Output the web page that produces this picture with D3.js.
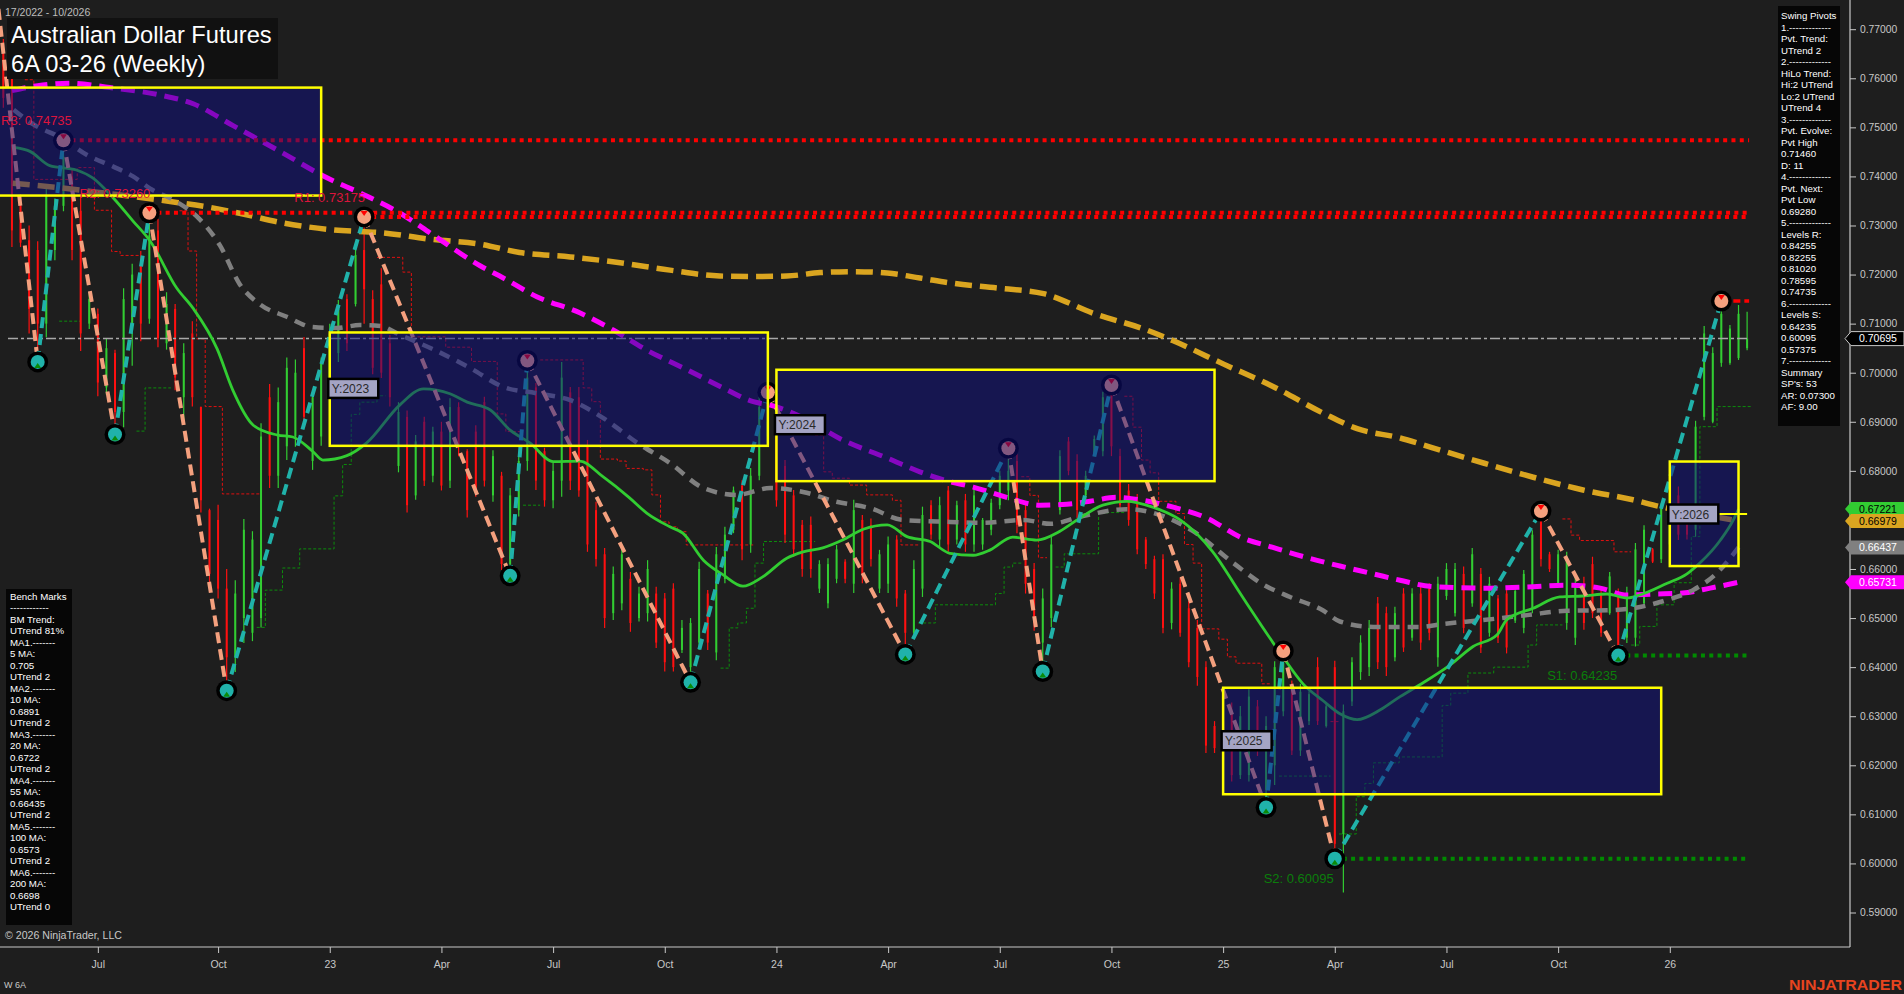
<!DOCTYPE html>
<html><head><meta charset="utf-8">
<script src="https://cdnjs.cloudflare.com/ajax/libs/d3/7.8.5/d3.min.js"></script>
<style>
html,body{margin:0;padding:0;background:#1e1e1e;overflow:hidden}
svg{display:block}
text{font-family:"Liberation Sans",Arial,sans-serif}
</style></head><body>
<svg id="c" width="1904" height="994"></svg>
<script>
// ---------- DATA ----------
const firstBarDate = new Date(2022, 3, 15); // weekly bars (Fridays)
const opens=[.7650,.7640,.7340,.7270,.7250,.7100,.7250,.7340,.7400,.7330,
.7100,.7120,.6970,.7040,.6920,.7100,.7220,.7110,.7290,.7060,
.7130,.6950,.7080,.6930,.6720,.6700,.6560,.6420,.6500,.6470,
.6500,.6950,.6790,.6850,.6870,.7050,.6820,.6870,.6980,.7040,
.7150,.7140,.7250,.7150,.7180,.7060,.6810,.6910,.6750,.6900,
.6790,.6880,.6780,.6930,.6840,.6880,.6940,.6750,.6790,.6610,
.6720,.6820,.6970,.6840,.6740,.6780,.6960,.6950,.6850,.6720,
.6630,.6510,.6530,.6580,.6500,.6510,.6550,.6540,.6560,.6435,
.6400,.6450,.6550,.6430,.6580,.6680,.6770,.6650,.6790,.6870,
.6870,.6810,.6750,.6690,.6690,.6560,.6530,.6580,.6615,.6570,
.6700,.6690,.6560,.6570,.6660,.6550,.6470,.6560,.6730,.6660,
.6760,.6660,.6740,.6650,.6650,.6680,.6730,.6760,.6820,.6720,
.6600,.6450,.6500,.6720,.6860,.6820,.6750,.6835,.6840,.6960,
.6830,.6760,.6740,.6660,.6620,.6620,.6490,.6570,.6520,.6480,
.6400,.6280,.6290,.6310,.6180,.6180,.6320,.6150,.6200,.6310,
.6360,.6230,.6290,.6400,.6280,.6400,.6060,.6330,.6390,.6400,
.6530,.6510,.6420,.6550,.6460,.6550,.6560,.6420,.6545,.6510,
.6590,.6530,.6590,.6470,.6540,.6550,.6495,.6480,.6520,.6700,
.6630,.6570,.6490,.6460,.6570,.6610,.6550,.6510,.6550,.6460,
.6460,.6530,.6640,.6620,.6650,.6750,.6720,.6680,.6910,.6900,
.7020,.7020,.7030,.7050];
const highs=[.7680,.7658,.7364,.7300,.7268,.7384,.7355,.7475,.7413,.7364,
.7164,.7131,.7070,.7047,.7172,.7222,.7248,.7326,.7313,.7164,
.7140,.7060,.7105,.6931,.6723,.6731,.6600,.6577,.6702,.6677,
.6897,.6977,.6970,.7031,.7027,.7073,.6965,.7031,.7100,.7148,
.7160,.7256,.7319,.7168,.7213,.7077,.6940,.6923,.6873,.6910,
.6890,.6900,.6948,.6940,.6844,.6893,.6951,.6842,.6798,.6765,
.6829,.7025,.6979,.6847,.6816,.7022,.6971,.6971,.6863,.6737,
.6643,.6605,.6643,.6594,.6564,.6618,.6564,.6551,.6571,.6496,
.6500,.6615,.6557,.6645,.6686,.6768,.6781,.6806,.6951,.6960,
.6880,.6822,.6761,.6700,.6707,.6618,.6622,.6649,.6620,.6741,
.6710,.6703,.6639,.6666,.6669,.6557,.6618,.6727,.6740,.6747,
.6769,.6739,.6753,.6765,.6704,.6743,.6800,.6846,.6834,.6734,
.6612,.6560,.6669,.6842,.6869,.6834,.6800,.6872,.6961,.6975,
.6845,.6773,.6753,.6665,.6627,.6630,.6573,.6582,.6535,.6496,
.6412,.6290,.6300,.6328,.6321,.6355,.6333,.6300,.6412,.6433,
.6373,.6366,.6351,.6420,.6326,.6413,.6324,.6420,.6465,.6496,
.6543,.6523,.6523,.6561,.6561,.6564,.6571,.6584,.6612,.6612,
.6605,.6643,.6602,.6584,.6547,.6557,.6561,.6598,.6679,.6718,
.6635,.6639,.6635,.6584,.6584,.6625,.6564,.6594,.6560,.6564,
.6653,.6689,.6643,.6734,.6740,.6768,.6727,.6902,.7095,.7052,
.7148,.7097,.7138,.7124];
const lows=[.7540,.7256,.7256,.7080,.7022,.7072,.7229,.7329,.7229,.7044,
.7089,.6952,.6955,.6874,.6889,.7014,.7064,.7100,.7052,.7047,
.6964,.6900,.6931,.6715,.6573,.6540,.6352,.6390,.6449,.6453,
.6481,.6765,.6765,.6822,.6849,.6897,.6802,.6851,.6960,.7022,
.7044,.7135,.7100,.6997,.6989,.6931,.6797,.6715,.6741,.6769,
.6777,.6760,.6765,.6830,.6705,.6747,.6768,.6737,.6598,.6586,
.6707,.6800,.6761,.6727,.6724,.6747,.6761,.6747,.6635,.6605,
.6480,.6496,.6516,.6472,.6493,.6493,.6439,.6391,.6391,.6429,
.6369,.6435,.6435,.6414,.6571,.6673,.6618,.6633,.6781,.6850,
.6727,.6653,.6625,.6584,.6582,.6551,.6520,.6571,.6571,.6551,
.6571,.6605,.6551,.6551,.6523,.6426,.6459,.6543,.6660,.6643,
.6635,.6650,.6635,.6635,.6639,.6669,.6722,.6740,.6673,.6550,
.6474,.6391,.6482,.6711,.6791,.6704,.6740,.6830,.6830,.6830,
.6719,.6688,.6630,.6600,.6539,.6469,.6477,.6462,.6400,.6362,
.6225,.6225,.6190,.6167,.6172,.6167,.6219,.6114,.6160,.6300,
.6221,.6219,.6282,.6282,.6277,.6010,.5941,.6321,.6374,.6382,
.6396,.6382,.6412,.6431,.6454,.6435,.6455,.6401,.6537,.6503,
.6469,.6523,.6429,.6462,.6449,.6428,.6490,.6469,.6510,.6605,
.6594,.6564,.6476,.6445,.6476,.6500,.6462,.6507,.6423,.6449,
.6442,.6523,.6612,.6612,.6640,.6659,.6660,.6666,.6903,.6897,
.7012,.7016,.7026,.7046];
const closes=[.7560,.7290,.7265,.7130,.7100,.7360,.7340,.7440,.7250,.7080,
.7150,.6980,.7050,.6920,.7150,.7200,.7100,.7280,.7070,.7140,
.6990,.7040,.6950,.6740,.6590,.6560,.6420,.6550,.6680,.6660,
.6870,.6790,.6940,.7010,.7000,.6910,.6950,.7020,.7080,.7130,
.7060,.7240,.7170,.7010,.7000,.6950,.6920,.6730,.6860,.6780,
.6880,.6770,.6930,.6850,.6720,.6760,.6780,.6830,.6610,.6750,
.6820,.6990,.6780,.6740,.6800,.6990,.6780,.6760,.6650,.6620,
.6500,.6590,.6630,.6490,.6550,.6600,.6450,.6410,.6400,.6480,
.6490,.6600,.6450,.6630,.6670,.6760,.6640,.6790,.6930,.6900,
.6740,.6670,.6640,.6600,.6600,.6610,.6610,.6640,.6580,.6720,
.6590,.6620,.6630,.6650,.6540,.6470,.6600,.6710,.6670,.6730,
.6650,.6730,.6650,.6750,.6700,.6735,.6790,.6800,.6690,.6570,
.6490,.6540,.6650,.6830,.6800,.6720,.6790,.6865,.6950,.6850,
.6730,.6700,.6640,.6610,.6550,.6480,.6560,.6470,.6410,.6380,
.6240,.6235,.6210,.6180,.6300,.6340,.6230,.6280,.6400,.6410,
.6230,.6350,.6345,.6290,.6320,.6040,.6310,.6410,.6450,.6480,
.6410,.6400,.6510,.6440,.6550,.6450,.6470,.6570,.6600,.6600,
.6480,.6630,.6440,.6570,.6460,.6440,.6555,.6590,.6670,.6620,
.6600,.6630,.6620,.6570,.6490,.6510,.6470,.6585,.6440,.6550,
.6640,.6680,.6615,.6725,.6730,.6670,.6670,.6890,.7080,.7040,
.7120,.7090,.7120,.70695];

// swing pivots (bar index, price, kind)
const pivotIdx=[-1,4,7,13,17,26,42,59,61,80,89,105,117,121,129,147,149,155,179,188,200];
const pivotVal=[.7810,.7022,.74735,.6874,.73260,.6352,.73175,.6586,.7025,.6369,.6960,.6426,.6846,.6391,.6975,.6114,.6433,.60095,.6718,.64235,.71460];
const pivotKind=['H','L','H','L','H','L','H','L','H','L','H','L','H','L','H','L','H','L','H','L','H'];

// moving averages sampled [bar index, value]
const ma20=[[1.2,.7459],[3.1,.7451],[5.4,.7422],[8.5,.7413],[10.4,.7397],[12.8,.7356],[15.1,.7309],[17.1,.7268],[20.2,.7172],[22.1,.7131],[24.9,.7048],[26.7,.6965],[29.1,.6893],[31.9,.6873],[33.7,.6869],[36.0,.6840],[37.2,.6822],[40.0,.6831],[42.3,.6857],[46.2,.6935],[48.9,.6967],[52.0,.6957],[54.0,.6940],[56.7,.6924],[59.0,.6883],[61.3,.6857],[64.0,.6819],[67.1,.6820],[69.8,.6788],[72.9,.6745],[74.9,.6714],[77.6,.6686],[79.1,.6673],[81.5,.6618],[83.8,.6588],[86.1,.6565],[88.4,.6584],[91.2,.6622],[93.1,.6635],[95.4,.6643],[97.7,.6659],[100.1,.6681],[102.9,.6690],[105.2,.6666],[107.9,.6656],[110.2,.6632],[112.9,.6628],[114.9,.6639],[117.5,.6665],[120.3,.6659],[123.0,.6677],[125.0,.6700],[128.0,.6730],[130.8,.6738],[133.8,.6726],[137.0,.6700],[140.8,.6635],[144.0,.6550],[146.3,.6489],[149.0,.6420],[151.3,.6366],[153.6,.6332],[155.6,.6305],[157.6,.6293],[160.3,.6313],[162.6,.6340],[164.9,.6364],[168.4,.6404],[171.1,.6442],[173.9,.6466],[175.0,.6496],[178.1,.6520],[181.2,.6543],[183.9,.6545],[186.7,.6549],[189.0,.6541],[190.5,.6547],[193.7,.6571],[196.0,.6590],[197.5,.6612],[199.9,.6659],[201.4,.6700],[202,.6722]];
const ma55=[[1.2,.7536],[3.5,.7506],[6.9,.7477],[9.7,.7444],[12.8,.7420],[15.1,.7400],[17.1,.7375],[19.8,.7352],[22.9,.7312],[25.2,.7260],[27.5,.7181],[29.9,.7139],[33.0,.7114],[36.0,.7093],[38.8,.7091],[41.5,.7097],[43.9,.7095],[46.2,.7077],[50.0,.7048],[54.3,.7010],[58.2,.6971],[62.1,.6958],[66.0,.6944],[69.8,.6908],[73.8,.6857],[77.6,.6816],[81.5,.6765],[85.4,.6751],[89.3,.6765],[93.1,.6757],[97.0,.6737],[100.9,.6724],[104.7,.6700],[110.2,.6696],[114.0,.6694],[118.7,.6700],[121.9,.6692],[125.7,.6708],[130.8,.6722],[134.3,.6712],[138.5,.6677],[143.2,.6612],[146.6,.6569],[149.8,.6543],[153.6,.6516],[155.6,.6493],[159.5,.6482],[164.9,.6482],[167.6,.6488],[172.3,.6496],[177.4,.6506],[182.0,.6515],[186.7,.6516],[189.7,.6520],[193.7,.6537],[196.7,.6557],[199.5,.6592],[202,.6644]];
const ma100=[[1.0,.7575],[4.0,.7585],[7.8,.7590],[12.4,.7581],[18.2,.7566],[22.1,.7548],[26.8,.7503],[32.6,.7447],[36.9,.7404],[42.3,.7360],[46.2,.7325],[50.0,.7281],[55.5,.7218],[58.2,.7193],[62.1,.7155],[67.1,.7122],[71.0,.7087],[74.9,.7046],[79.6,.7006],[83.8,.6969],[87.3,.6941],[89.3,.6934],[93.1,.6908],[97.7,.6863],[102.9,.6826],[106.7,.6798],[110.2,.6778],[112.9,.6767],[116.8,.6746],[120.7,.6730],[123.8,.6732],[126.5,.6738],[129.6,.6746],[132.3,.6741],[136.2,.6726],[140.1,.6704],[144.0,.6665],[147.8,.6644],[151.8,.6623],[155.6,.6606],[159.5,.6590],[162.6,.6577],[166.4,.6564],[172.3,.6561],[178.1,.6564],[182.0,.6567],[185.9,.6561],[189.0,.6547],[192.1,.6549],[195.5,.6551],[198.7,.6561],[202,.6573]];
const ma200=[[1.1,.7386],[5.4,.7379],[10.4,.7369],[15.1,.7359],[19.8,.7348],[23.7,.7338],[27.5,.7325],[32.6,.7305],[38.4,.7291],[44.2,.7285],[49.7,.7272],[55.5,.7262],[60.1,.7245],[66.0,.7236],[71.8,.7224],[77.6,.7209],[83.4,.7197],[87.3,.7196],[91.2,.7197],[95.1,.7204],[98.9,.7206],[102.9,.7203],[106.7,.7193],[110.2,.7183],[116.0,.7172],[121.1,.7161],[126.9,.7121],[133.1,.7087],[136.2,.7065],[142.0,.7018],[147.8,.6972],[153.6,.6918],[157.6,.6886],[162.6,.6867],[166.4,.6847],[172.3,.6816],[178.1,.6787],[183.9,.6761],[189.7,.6741],[192.9,.6727],[197.5,.6712],[202,.6698]];

// trailing step bands [bar index, value]
const redSteps=[
 [[2.5,.7597],[3.55,.7394],[8.6,.7418],[10.6,.7331],[12.6,.7247],[13.6,.7239],[15.9,.7239]],
 [[20.5,.7330],[21.5,.7248],[22.5,.7069],[23.5,.6931],[25.5,.6753],[29.9,.6753]],
 [[43.5,.7235],[46.5,.7205],[47.5,.7073],[51.5,.7052],[54.5,.7023],[57.5,.6916],[58.5,.6880],[60.5,.6880]],
 [[62.5,.7026],[67.5,.6969],[68.5,.6941],[69.5,.6824],[71.5,.6820],[72.5,.6805],[74.5,.6802],[75.5,.6751],[76.5,.6696],[77.5,.6686],[78.5,.6676],[79.5,.6649],[87.5,.6649]],
 [[94.5,.6873],[95.5,.6798],[96.5,.6785],[98.5,.6771],[100.5,.6751],[103.5,.6740],[104.5,.6649],[106.5,.6649]],
 [[118.5,.6788],[119.5,.6750],[120.5,.6623],[121.5,.6623]],
 [[130.5,.6952],[131.5,.6889],[132.5,.6822],[133.5,.6796],[134.5,.6738],[136.5,.6713],[137.5,.6650],[138.5,.6612],[139.5,.6478],[141.5,.6457],[142.5,.6421],[143.5,.6408],[146.5,.6366],[147.5,.6366]],
 [[154.5,.6289],[155.5,.6289]],
 [[181.5,.6702],[182.5,.6669],[183.5,.6658],[187.5,.6635],[189.5,.6635]]
];
const greenSteps=[
 [[6.5,.7105],[9,.7105]],
 [[15.5,.6881],[16.5,.6969],[19.5,.6969]],
 [[29.5,.6481],[30.5,.6557],[32.5,.6602],[34.5,.6641],[38.5,.6749],[39.5,.6813],[40.5,.6915],[41.5,.6940],[43.5,.6953],[44.5,.6953]],
 [[60.5,.6730],[62.5,.6730]],
 [[83.5,.6398],[84.5,.6480],[85.5,.6490],[86.5,.6520],[87.5,.6612],[88.5,.6656],[94.5,.6656]],
 [[106.5,.6490],[108.5,.6527],[115.5,.6550],[116.5,.6604],[117.5,.6612],[118.5,.6612]],
 [[122.5,.6604],[123.5,.6631],[127.5,.6713],[128.5,.6715],[130.5,.6715]],
 [[148.5,.6178],[154.5,.6178]],
 [[155.5,.6060],[157.5,.6136],[158.5,.6163],[159.5,.6205],[162.5,.6217],[167.5,.6322],[168.5,.6347],[170.5,.6388],[173.5,.6400],[177.5,.6445],[178.5,.6486],[181.5,.6486]],
 [[189.5,.6445],[190.5,.6483],[192.5,.6527],[194.5,.6572],[196.5,.6666],[197.5,.6890],[199.5,.6931],[203.5,.6931]]
];

// support / resistance levels
const rLevels=[0.74735,0.73260,0.73175], rFrom=[7,17,42], rNames=['R3','R2','R1'];
const sLevels=[0.64235,0.60095], sFrom=[188,155], sNames=['S1','S2'];

// yearly boxes
const boxYears=['2022','2023','2024','2025','2026'];
const boxStart=[-1,38,90,142,194], boxEnd=[37,89,141,193,202];
const boxTop=[.7581,.7082,.7006,.6358,.6819], boxBot=[.7361,.6851,.6779,.6141,.6606];
const yearOpen=[null,.6968,.6894,.6250,.6712];

const lastPrice=0.70695;
const tagValues=[0.70695,0.67221,0.66979,0.66437,0.65731];
const tagFills=['#000000','#32cd32','#daa520','#808080','#ff00ff'];
const tagTexts=['#ffffff','#000000','#000000','#ffffff','#ffffff'];

const swingText=['Swing Pivots','1.-------------','Pvt. Trend:','UTrend 2','2.-------------','HiLo Trend:','Hi:2 UTrend','Lo:2 UTrend','UTrend 4','3.-------------','Pvt. Evolve:','Pvt High','0.71460','D: 11','4.-------------','Pvt. Next:','Pvt Low','0.69280','5.-------------','Levels R:','0.84255','0.82255','0.81020','0.78595','0.74735','6.-------------','Levels S:','0.64235','0.60095','0.57375','7.-------------','Summary',"SP's: 53",'AR: 0.07300','AF: 9.00'];
const benchText=['Bench Marks','------------','BM Trend:','UTrend 81%','MA1.-------','5 MA:','0.705','UTrend 2','MA2.-------','10 MA:','0.6891','UTrend 2','MA3.-------','20 MA:','0.6722','UTrend 2','MA4.-------','55 MA:','0.66435','UTrend 2','MA5.-------','100 MA:','0.6573','UTrend 2','MA6.-------','200 MA:','0.6698','UTrend 0'];
const yTicks=d3.range(0,19).map(k=>+(0.59+k*0.01).toFixed(2));

// ---------- CHART ----------
const N=opens.length;
const W=1904,H=994, plotR=1850, plotB=947;
const svg=d3.select('#c');
const x=d3.scaleLinear().domain([0,203]).range([3.34,3.34+203*8.59]);
const y=d3.scaleLinear().domain([0.59,0.77]).range([912.5,29.2]);

svg.append('rect').attr('width',W).attr('height',H).attr('fill','#1e1e1e');
svg.append('defs').append('clipPath').attr('id','clip').append('rect').attr('x',0).attr('y',0).attr('width',plotR).attr('height',plotB);
const g=svg.append('g').attr('clip-path','url(#clip)');

// step bands
const stepLine=d3.line().x(d=>x(d[0])).y(d=>y(d[1])).curve(d3.curveStepAfter);
g.selectAll('path.rs').data(redSteps).join('path').attr('d',stepLine).attr('fill','none').attr('stroke','#e01010').attr('stroke-width',1).attr('stroke-dasharray','3,2');
g.selectAll('path.gs').data(greenSteps).join('path').attr('d',stepLine).attr('fill','none').attr('stroke','#0c8c0c').attr('stroke-width',1).attr('stroke-dasharray','3,2');

// bars
const idx=d3.range(N);
const col=i=>closes[i]>=opens[i]?'#32cd32':'#ff1010';
g.selectAll('line.bar').data(idx).join('line')
 .attr('x1',i=>x(i)).attr('x2',i=>x(i)).attr('y1',i=>y(highs[i])).attr('y2',i=>y(lows[i]))
 .attr('stroke',col).attr('stroke-width',1.2);
g.selectAll('rect.body').data(idx).join('rect')
 .attr('x',i=>x(i)-1).attr('width',2)
 .attr('y',i=>y(Math.max(opens[i],closes[i])))
 .attr('height',i=>Math.max(1,Math.abs(y(opens[i])-y(closes[i]))))
 .attr('fill',col);

// last price dash-dot line
g.append('line').attr('x1',8).attr('x2',x(203)+2).attr('y1',y(lastPrice)).attr('y2',y(lastPrice))
 .attr('stroke','#a8a8a8').attr('stroke-width',1.5).attr('stroke-dasharray','10,3,3,3');

// moving averages
const maLine=d3.line().x(d=>x(d[0])).y(d=>y(d[1])).curve(d3.curveMonotoneX);
g.append('path').attr('d',maLine(ma200)).attr('fill','none').attr('stroke','#daa520').attr('stroke-width',5.5).attr('stroke-dasharray','17,8');
g.append('path').attr('d',maLine(ma100)).attr('fill','none').attr('stroke','#ff00ff').attr('stroke-width',5).attr('stroke-dasharray','14,8');
g.append('path').attr('d',maLine(ma55)).attr('fill','none').attr('stroke','#808080').attr('stroke-width',4.5).attr('stroke-dasharray','11,8');
g.append('path').attr('d',maLine(ma20)).attr('fill','none').attr('stroke','#32cd32').attr('stroke-width',2.8);

// levels
rLevels.forEach((v,k)=>{
 g.append('line').attr('x1',x(rFrom[k])+8).attr('x2',x(203)+2).attr('y1',y(v)).attr('y2',y(v))
  .attr('stroke','#ff0000').attr('stroke-width',4).attr('stroke-dasharray','4,4.3');
});
sLevels.forEach((v,k)=>{
 g.append('line').attr('x1',x(sFrom[k])+8).attr('x2',x(203)+2).attr('y1',y(v)).attr('y2',y(v))
  .attr('stroke','#008a00').attr('stroke-width',4).attr('stroke-dasharray','4,4.3');
});
// evolving pivot high marker line
g.append('line').attr('x1',x(200)+12).attr('x2',x(203)+2).attr('y1',y(pivotVal[pivotVal.length-1])).attr('y2',y(pivotVal[pivotVal.length-1]))
 .attr('stroke','#ff0000').attr('stroke-width',3.5).attr('stroke-dasharray','7,4');

// swing lines
for(let k=0;k<pivotIdx.length-1;k++){
 g.append('line').attr('x1',x(pivotIdx[k])).attr('y1',y(pivotVal[k])).attr('x2',x(pivotIdx[k+1])).attr('y2',y(pivotVal[k+1]))
  .attr('stroke',pivotKind[k]==='H'?'#f4a07e':'#20b2aa').attr('stroke-width',4).attr('stroke-dasharray','11,6');
}
// pivot markers
pivotIdx.forEach((pi,k)=>{
 if(pi<0) return;
 const cx=x(pi), cy=y(pivotVal[k]), hi=pivotKind[k]==='H';
 g.append('circle').attr('cx',cx).attr('cy',cy).attr('r',10.5).attr('fill','#000');
 g.append('circle').attr('cx',cx).attr('cy',cy).attr('r',7).attr('fill',hi?'#f4a07e':'#20b2aa');
 if(hi) g.append('path').attr('d',`M${cx-3.5},${cy-6} L${cx+3.5},${cy-6} L${cx},${cy-1} Z`).attr('fill','#ff0000');
 else g.append('path').attr('d',`M${cx-3.5},${cy+6} L${cx+3.5},${cy+6} L${cx},${cy+1} Z`).attr('fill','#0a8a0a');
});

// yearly boxes
boxYears.forEach((yr,k)=>{
 const x0=x(boxStart[k]), x1=x(boxEnd[k]);
 g.append('rect').attr('x',x0).attr('y',y(boxTop[k])).attr('width',x1-x0).attr('height',y(boxBot[k])-y(boxTop[k]))
  .attr('fill','rgb(14,14,130)').attr('fill-opacity',0.5).attr('stroke','#ffff00').attr('stroke-width',2.5);
});
// current year open line
g.append('line').attr('x1',x(boxStart[4])).attr('x2',x(203)).attr('y1',y(yearOpen[4])).attr('y2',y(yearOpen[4])).attr('stroke','#ffff00').attr('stroke-width',2);

// level labels
rLevels.forEach((v,k)=>{
 const t=g.append('text').attr('y',y(v)-15).attr('font-size',13).attr('fill','#dc143c').text(rNames[k]+': '+v.toFixed(5));
 if(k===0) t.attr('x',1).attr('text-anchor','start');
 else t.attr('x',x(rFrom[k])+1).attr('text-anchor','end');
});
sLevels.forEach((v,k)=>{
 g.append('text').attr('x',x(sFrom[k])-1).attr('y',y(v)+24).attr('text-anchor','end').attr('font-size',13)
  .attr('fill','#0b7d0b').text(sNames[k]+': '+v.toFixed(5));
});
// year labels
boxYears.forEach((yr,k)=>{
 if(yearOpen[k]==null) return;
 const x0=x(boxStart[k])-1.5, yc=y(yearOpen[k]);
 const lg=g.append('g');
 lg.append('rect').attr('x',x0).attr('y',yc-9.5).attr('width',50).attr('height',19).attr('fill','#a4a4c4').attr('stroke','#000').attr('stroke-width',2.5);
 lg.append('text').attr('x',x0+3.5).attr('y',yc+4.5).attr('font-family','"Liberation Mono","DejaVu Sans Mono",monospace').attr('font-size',12).attr('fill','#2a2a2a').text('Y:'+yr);
});

// ---------- AXES ----------
svg.append('line').attr('x1',plotR).attr('x2',plotR).attr('y1',0).attr('y2',plotB).attr('stroke','#c8c8c8').attr('stroke-width',1.2);
svg.append('line').attr('x1',0).attr('x2',plotR).attr('y1',plotB).attr('y2',plotB).attr('stroke','#c8c8c8').attr('stroke-width',1.2);
const yAxis=svg.append('g').attr('transform',`translate(${plotR},0)`)
 .call(d3.axisRight(y).tickValues(yTicks).tickSize(6).tickPadding(4).tickFormat(d3.format('.5f')));
yAxis.select('.domain').remove();
yAxis.selectAll('line').attr('stroke','#c8c8c8');
yAxis.selectAll('text').attr('fill','#c8c8c8').attr('font-size',10.3).attr('font-family','"Liberation Sans",Arial,sans-serif');

// time ticks
const dates=idx.map(i=>d3.timeDay.offset(firstBarDate,7*i));
const mNames={3:'Apr',6:'Jul',9:'Oct'};
const tIdx=idx.filter(i=>i>0 && dates[i].getMonth()!==dates[i-1].getMonth() && [0,3,6,9].includes(dates[i].getMonth()));
const xAxis=svg.append('g').attr('transform',`translate(0,${plotB})`)
 .call(d3.axisBottom(x).tickValues(tIdx).tickSize(6).tickPadding(8)
 .tickFormat(i=>{const d=dates[i];return d.getMonth()===0?String(d.getFullYear()).slice(2):mNames[d.getMonth()];}));
xAxis.select('.domain').remove();
xAxis.selectAll('line').attr('stroke','#c8c8c8');
xAxis.selectAll('text').attr('fill','#c8c8c8').attr('font-size',10.5).attr('font-family','"Liberation Sans",Arial,sans-serif');

// price tags
tagValues.forEach((v,k)=>{
 const ty=y(v);
 svg.append('path').attr('d',`M1845,${ty} L1851,${ty-7} L1904,${ty-7} L1904,${ty+7} L1851,${ty+7} Z`)
  .attr('fill',tagFills[k]).attr('stroke',k===0?'#c8c8c8':'none').attr('stroke-width',1);
 svg.append('text').attr('x',1859).attr('y',ty+3.8).attr('font-size',10.5).attr('fill',tagTexts[k]).text(v.toFixed(5));
});

// ---------- TEXT PANELS ----------
svg.append('text').attr('x',5).attr('y',16).attr('font-size',10.5).attr('fill','#bdbdbd').text('17/2022 - 10/2026');
svg.append('rect').attr('x',7).attr('y',18).attr('width',271).attr('height',61).attr('fill','#111111');
svg.append('text').attr('x',11).attr('y',42.5).attr('font-size',23.7).attr('fill','#ffffff').text('Australian Dollar Futures');
svg.append('text').attr('x',11).attr('y',71.5).attr('font-size',23.7).attr('fill','#ffffff').text('6A 03-26 (Weekly)');

svg.append('rect').attr('x',1778).attr('y',6).attr('width',62).attr('height',420).attr('fill','#060606');
swingText.forEach((t,k)=>svg.append('text').attr('x',1781).attr('y',19.3+k*11.5).attr('font-size',9.7).attr('fill','#ffffff').text(t));

svg.append('rect').attr('x',6).attr('y',589).attr('width',66).attr('height',336).attr('fill','#060606');
benchText.forEach((t,k)=>svg.append('text').attr('x',10).attr('y',599.5+k*11.5).attr('font-size',9.7).attr('fill','#ffffff').text(t));

svg.append('text').attr('x',5).attr('y',938.5).attr('font-size',10.6).attr('fill','#c8c8c8').text('\u00a9 2026 NinjaTrader, LLC');
svg.append('text').attr('x',4).attr('y',988).attr('font-size',9).attr('fill','#c8c8c8').text('W 6A');
svg.append('text').attr('x',1789).attr('y',990).attr('font-size',15).attr('font-weight','bold').attr('fill','#e8441f')
 .attr('textLength',113).attr('lengthAdjust','spacingAndGlyphs').text('NINJATRADER');
</script>
</body></html>
